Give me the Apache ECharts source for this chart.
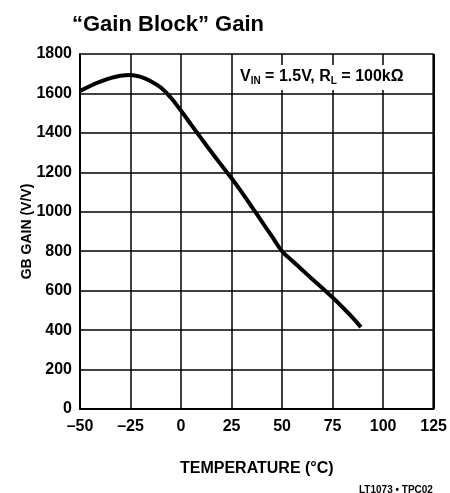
<!DOCTYPE html>
<html>
<head>
<meta charset="utf-8">
<script src="https://cdn.jsdelivr.net/npm/echarts@6/dist/echarts.min.js"></script>
<style>
	html, body { margin: 0; padding: 0; background: #fff; }
	#main { width: 450px; height: 493px; }
</style>
</head>
<body>
<div id="main"></div>
<script>
// temperature (°C) and gain (V/V)
const temps = [-50, -45, -40, -35, -30, -25, -20, -15, -10, -5, 0, 5, 10, 15, 20, 25, 30, 35, 40, 45, 50, 55, 60, 65, 70, 75, 80, 85, 89];
const gain = [1612, 1638, 1660, 1678, 1690, 1694, 1684, 1662, 1630, 1578, 1512, 1442, 1372, 1303, 1236, 1170, 1100, 1025, 950, 875, 800, 752, 705, 658, 612, 565, 515, 462, 415];
const xTicks = { min: -50, max: 125, step: 25 };
const yTicks = { min: 0, max: 1800, step: 200 };

const font = "'Liberation Sans', Arial, sans-serif";
const chart = echarts.init(document.getElementById("main"));

chart.setOption({
	animation: false,
	backgroundColor: "#fff",
	title: [
		{
			text: "\u201cGain Block\u201d Gain",
			left: 67,
			top: 9,
			textStyle: { fontFamily: font, fontWeight: "bold", fontSize: 22, color: "#000" },
		},
		{
			text: "{n|V}{s|IN}{n| = 1.5V, R}{s|L}{n| = 100k\u03a9}",
			left: 236,
			top: 64,
			padding: [4, 6, 4, 4],
			backgroundColor: "#fff",
			textStyle: {
				rich: {
					n: { fontFamily: font, fontWeight: "bold", fontSize: 16, color: "#000" },
					s: { fontFamily: font, fontWeight: "bold", fontSize: 10, color: "#000", verticalAlign: "bottom", padding: [8, 0, 0, 0] },
				},
			},
		},
		{
			text: "LT1073 \u2022 TPC02",
			left: 354,
			top: 480,
			textStyle: { fontFamily: font, fontWeight: "bold", fontSize: 10, color: "#000" },
		},
	],
	grid: { left: 80, right: 15, top: 54, bottom: 84 },
	xAxis: {
		type: "value",
		min: xTicks.min,
		max: xTicks.max,
		interval: xTicks.step,
		name: "TEMPERATURE (\u00b0C)",
		nameLocation: "middle",
		nameGap: 52,
		nameMoveOverlap: false,
		nameTextStyle: { fontFamily: font, fontWeight: "bold", fontSize: 16, color: "#000" },
		axisLine: { show: true, onZero: false, lineStyle: { color: "#000", width: 2 } },
		axisTick: { show: false },
		splitLine: { show: true, lineStyle: { color: "#000", width: 1.5 } },
		axisLabel: {
			margin: 10,
			fontFamily: font,
			fontWeight: "bold",
			fontSize: 16,
			color: "#000",
			formatter: (v) => String(v).replace("-", "\u2013"),
		},
	},
	yAxis: {
		type: "value",
		min: yTicks.min,
		max: yTicks.max,
		interval: yTicks.step,
		name: "GB GAIN (V/V)",
		nameLocation: "middle",
		nameRotate: 90,
		nameGap: 46,
		nameMoveOverlap: false,
		nameTextStyle: { fontFamily: font, fontWeight: "bold", fontSize: 14, color: "#000" },
		axisLine: { show: true, onZero: false, lineStyle: { color: "#000", width: 2 } },
		axisTick: { show: false },
		splitLine: { show: true, lineStyle: { color: "#000", width: 1.5 } },
		axisLabel: { margin: 8, fontFamily: font, fontWeight: "bold", fontSize: 16, color: "#000", formatter: (v) => String(v) },
	},
	series: [
		{
			type: "line",
			data: temps.map((t, i) => [t, gain[i]]),
			smooth: 0.4,
			showSymbol: false,
			lineStyle: { color: "#000", width: 4 },
			z: 5,
		},
		{
			// right-hand frame edge
			type: "line",
			data: [[xTicks.max, yTicks.min], [xTicks.max, yTicks.max]],
			showSymbol: false,
			lineStyle: { color: "#000", width: 2.5 },
		},
	],
});
</script>
</body>
</html>
